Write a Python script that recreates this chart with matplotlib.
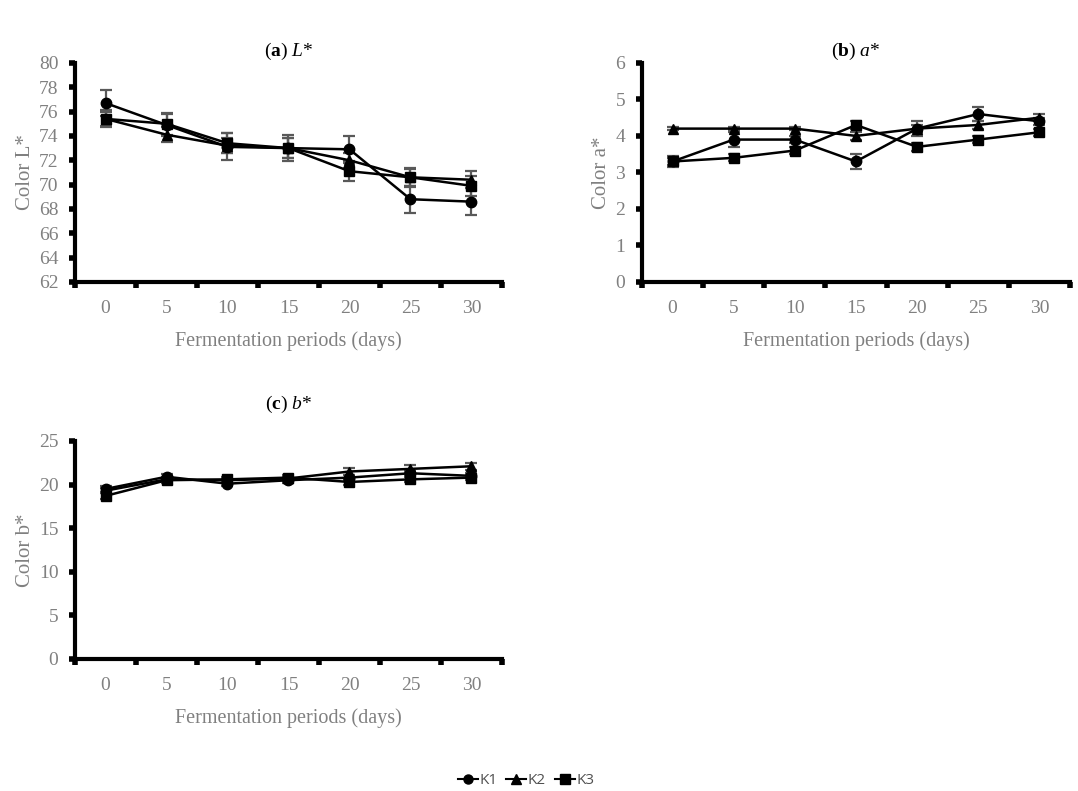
import matplotlib
matplotlib.use("Agg")
import matplotlib.pyplot as plt
from matplotlib.lines import Line2D
import numpy as np

plt.rcParams['font.family'] = 'Liberation Serif'
plt.rcParams['mathtext.fontset'] = 'custom'
plt.rcParams['mathtext.rm'] = 'Liberation Serif'
plt.rcParams['mathtext.it'] = 'Liberation Serif:italic'
plt.rcParams['mathtext.bf'] = 'Liberation Serif:bold'

days = [0, 5, 10, 15, 20, 25, 30]
series = ['K1', 'K2', 'K3']
markers = ['o', '^', 's']

# L*
L_k1 = [76.7, 74.9, 73.1, 73.0, 72.9, 68.8, 68.6]
L_k2 = [75.4, 74.1, 73.2, 73.0, 72.0, 70.6, 70.4]
L_k3 = [75.4, 75.0, 73.4, 73.0, 71.1, 70.6, 69.9]
L_e1 = [1.1, 0.9, 1.1, 1.1, 1.1, 1.1, 1.1]
L_e2 = [0.6, 0.6, 0.6, 0.8, 0.6, 0.7, 0.7]
L_e3 = [0.7, 0.9, 0.8, 0.8, 0.8, 0.8, 0.8]

# a*
a_k1 = [3.3, 3.9, 3.9, 3.3, 4.2, 4.6, 4.4]
a_k2 = [4.2, 4.2, 4.2, 4.0, 4.2, 4.3, 4.5]
a_k3 = [3.3, 3.4, 3.6, 4.3, 3.7, 3.9, 4.1]
a_e1 = [0.1, 0.2, 0.1, 0.2, 0.2, 0.2, 0.1]
a_e2 = [0.05, 0.05, 0.05, 0.1, 0.1, 0.1, 0.1]
a_e3 = [0.15, 0.1, 0.1, 0.1, 0.1, 0.1, 0.1]

# b*
b_k1 = [19.5, 20.9, 20.1, 20.5, 20.8, 21.3, 21.0]
b_k2 = [19.3, 20.6, 20.5, 20.7, 21.5, 21.8, 22.1]
b_k3 = [18.7, 20.5, 20.6, 20.8, 20.3, 20.6, 20.8]
b_e1 = [0.3, 0.3, 0.3, 0.3, 0.3, 0.3, 0.3]
b_e2 = [0.3, 0.3, 0.3, 0.3, 0.4, 0.4, 0.4]
b_e3 = [0.3, 0.3, 0.3, 0.3, 0.3, 0.3, 0.3]

grey = '#808080'


def panel(ax, vals, errs, ylim, ystep, ylabel, title, tpad):
    x = np.arange(len(days))
    for v, e, m in zip(vals, errs, markers):
        ax.errorbar(x, v, yerr=e, color='black', marker=m, ms=7.5, lw=1.8,
                    ecolor='#595959', elinewidth=1.6, capsize=4, capthick=1.6)
    ax.set_xlim(-0.5, len(days) - 0.5)
    ax.set_ylim(*ylim)
    ax.set_yticks(np.arange(ylim[0], ylim[1] + 0.01, ystep))
    ax.set_xticks(np.arange(-0.5, len(days)))
    ax.set_xticklabels([])
    ax.set_xticks(x, minor=True)
    ax.set_xticklabels([str(d) for d in days], minor=True)
    ax.tick_params(axis='x', which='minor', length=0, pad=13, labelsize=14, labelcolor=grey)
    ax.tick_params(axis='x', which='major', direction='out', length=4, width=4, color='black')
    ax.tick_params(axis='y', direction='out', length=4, width=4, labelsize=14,
                   labelcolor=grey, pad=8)
    for s in ['top', 'right']:
        ax.spines[s].set_visible(False)
    for s in ['left', 'bottom']:
        ax.spines[s].set_linewidth(3)
    ax.set_xlabel('Fermentation periods (days)', color=grey, fontsize=14.5, labelpad=10)
    ax.set_ylabel(ylabel, color=grey, fontsize=15, labelpad=3)
    ax.set_title(title, fontsize=14, pad=tpad)


fig = plt.figure(figsize=(10.78, 7.91), dpi=100)
ax_a = fig.add_axes([0.0696, 0.6435, 0.396, 0.277])
ax_b = fig.add_axes([0.5955, 0.6435, 0.397, 0.277])
ax_c = fig.add_axes([0.0696, 0.1669, 0.396, 0.2756])

panel(ax_a, [L_k1, L_k2, L_k3], [L_e1, L_e2, L_e3], (62, 80), 2, 'Color L*',
      r'($\mathbf{a}$) $\mathit{L}$*', 5)
panel(ax_b, [a_k1, a_k2, a_k3], [a_e1, a_e2, a_e3], (0, 6), 1, 'Color a*',
      r'($\mathbf{b}$) $\mathit{a}$*', 5)
panel(ax_c, [b_k1, b_k2, b_k3], [b_e1, b_e2, b_e3], (0, 25), 5, 'Color b*',
      r'($\mathbf{c}$) $\mathit{b}$*', 23)

handles = [Line2D([], [], color='black', marker=m, ms=6.5, lw=1.5) for m in markers]
leg = fig.legend(handles, series, loc='center', bbox_to_anchor=(0.488, 0.013),
                 ncol=3, frameon=False, handlelength=1.3, handletextpad=0.1,
                 columnspacing=0.6, prop={'family': 'Open Sans', 'size': 11})
for t in leg.get_texts():
    t.set_color('#505050')

fig.savefig('out.png', dpi=100)
